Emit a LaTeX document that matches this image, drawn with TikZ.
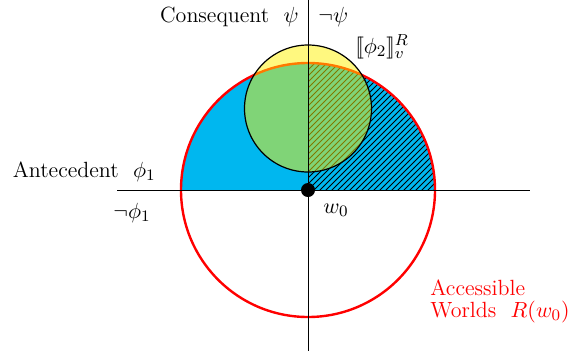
\documentclass[tikz,border=0pt]{standalone}
\usetikzlibrary{patterns}
\definecolor{skyfill}{RGB}{0,183,239}
\tikzset{
  lbl/.style={font=\fontsize{11}{13}\selectfont, inner sep=0pt, anchor=base},
  axis/.style={line width=0.5pt, black},
  redcirc/.style={draw=red, line width=1.2pt},
}
\begin{document}
\begin{tikzpicture}[x=0.5pt,y=-0.5pt]
\useasboundingbox (0,0) rectangle (571,354);
\coordinate (w0) at (308,190);
\coordinate (c2) at (308,108.5);
% cyan upper half of R(w0)
\begin{scope}
  \clip (0,0) rectangle (571,190);
  \fill[skyfill] (w0) circle[radius=127];
\end{scope}
% hatched right quarter
\begin{scope}
  \clip (308,0) rectangle (571,190);
  \fill[pattern=north east lines] (w0) circle[radius=127];
\end{scope}
% accessible worlds circle
\draw[redcirc] (w0) circle[radius=127];
% phi2 circle
\fill[yellow, fill opacity=0.5] (c2) circle[radius=63.5];
\draw[black, line width=0.6pt] (c2) circle[radius=63.5];
% axes
\coordinate (hl) at (117,190);
\coordinate (hr) at (530,190);
\coordinate (vt) at (308,0);
\coordinate (vb) at (308,351);
\draw[axis] (hl) -- (hr);
\draw[axis] (vt) -- (vb);
\fill[black] (w0) circle[radius=7];
% labels
\node[lbl, anchor=base east] (cons) at (299,22) {Consequent\ \ $\psi$};
\node[lbl, anchor=base west] (ncons) at (318,22) {$\neg\psi$};
\node[lbl, anchor=base west] (phi2) at (355,53) {$[\![\phi_2]\!]_v^R$};
\node[lbl, anchor=base east] (ante) at (156,177) {Antecedent\ \ $\phi_1$};
\node[lbl, anchor=base west] (nante) at (113,218) {$\neg\phi_1$};
\node[lbl, anchor=base west] (w0lbl) at (323,213) {$w_0$};
\node[lbl, anchor=base west, text=red] (acc1) at (430,295) {Accessible};
\node[lbl, anchor=base west, text=red] (acc2) at (430,317) {Worlds\ \ $R(w_0)$};
\end{tikzpicture}
\end{document}
